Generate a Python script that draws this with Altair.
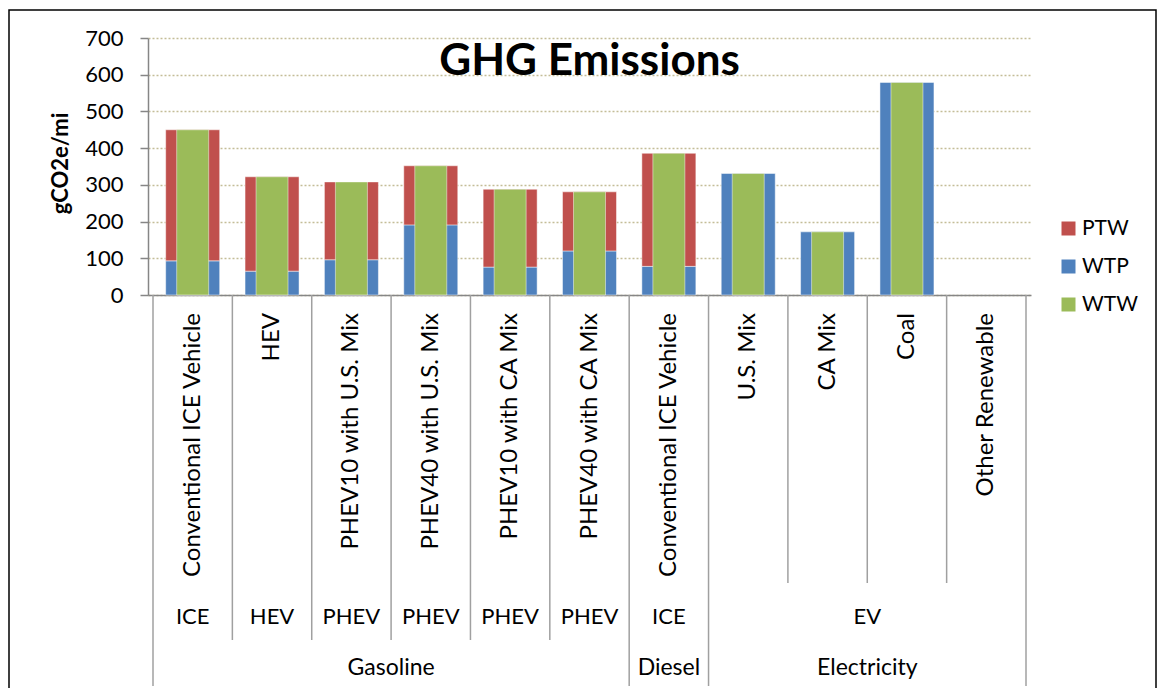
import altair as alt
import pandas as pd

# ---------------- data ----------------
vehicles = ["Conventional ICE Vehicle", "HEV", "PHEV10 with U.S. Mix", "PHEV40 with U.S. Mix",
            "PHEV10 with CA Mix", "PHEV40 with CA Mix", "Conventional ICE Vehicle",
            "U.S. Mix", "CA Mix", "Coal", "Other Renewable"]
wtp = [93, 65, 96, 191, 76, 120, 78, 331, 172, 579, 0]
ptw = [357, 257, 212, 161, 212, 161, 308, 0, 0, 0, 0]
wtw = [450, 322, 308, 352, 288, 281, 386, 331, 172, 579, 0]

types = ["ICE", "HEV", "PHEV", "PHEV", "PHEV", "PHEV", "ICE", "EV"]
type_start = [0, 1, 2, 3, 4, 5, 6, 7]
type_end = [1, 2, 3, 4, 5, 6, 7, 11]

fuels = ["Gasoline", "Diesel", "Electricity"]
fuel_start = [0, 6, 7]
fuel_end = [6, 7, 11]

series = ["PTW", "WTP", "WTW"]
colors = ["#C0504D", "#4F81BD", "#9BBB59"]
y_ticks = [0, 100, 200, 300, 400, 500, 600, 700]

# ---------------- styles ----------------
FONT = "Lato"
W, H = 883, 257
GRAY = "#868686"
SEP = "#A0A0A0"
sep_len = {1: 288, 2: 345, 3: 391}

# ---------------- tables ----------------
rows = []
for i in range(len(vehicles)):
    rows.append({"idx": i, "pos": i + 0.5, "series": "WTP", "value": wtp[i], "ord": 0})
    rows.append({"idx": i, "pos": i + 0.5, "series": "PTW", "value": ptw[i], "ord": 1})
    rows.append({"idx": i, "pos": i + 0.5, "series": "WTW", "value": wtw[i], "ord": 2})
df = pd.DataFrame(rows)

leaf = pd.DataFrame({"label": vehicles, "pos": [i + 0.5 for i in range(len(vehicles))]})
lvl2 = pd.DataFrame({"label": types,
                     "pos": [(s + e) / 2 for s, e in zip(type_start, type_end)]})
lvl3 = pd.DataFrame({"label": fuels,
                     "pos": [(s + e) / 2 for s, e in zip(fuel_start, fuel_end)]})

bounds = []
for k in range(len(vehicles) + 1):
    if k in fuel_start or k in fuel_end:
        lv = 3
    elif k in type_start or k in type_end:
        lv = 2
    else:
        lv = 1
    bounds.append({"k": k, "level": lv})
bdf = pd.DataFrame(bounds)

xscale = alt.Scale(domain=[0, len(vehicles)], nice=False, zero=False)
xaxis = alt.Axis(labels=False, ticks=False, grid=False, title=None,
                 domainColor=GRAY, domainWidth=1.5)
color = alt.Color("series:N",
                  scale=alt.Scale(domain=series, range=colors),
                  legend=alt.Legend(title=None, orient="none", legendX=910, legendY=180,
                                    symbolType="square", symbolSize=196, symbolStrokeWidth=0,
                                    labelFont=FONT, labelFontSize=21, labelColor="black",
                                    labelOffset=3, rowPadding=16, padding=0))

yscale = alt.Scale(domain=[0, 700], nice=False)
yaxis = alt.Axis(values=y_ticks, grid=True, labelOverlap=False,
                 gridColor="#C4BD97", gridDash=[2, 2], gridWidth=1.4,
                 domainColor=GRAY, domainWidth=1.5,
                 tickColor=GRAY, tickSize=8, tickWidth=1.5,
                 labelFont=FONT, labelFontSize=22, labelColor="black",
                 labelPadding=17,
                 title="gCO2e/mi", titleFont=FONT, titleFontSize=22,
                 titleFontWeight="bold", titleColor="black",
                 titleX=-88, titleY=125, titleAngle=270,
                 titleBaseline="middle", titleAlign="center")

base = alt.Chart(df).transform_filter(alt.datum.value > 0)

stacked = base.transform_filter(alt.datum.series != "WTW").mark_bar(
    size=54, stroke="white", strokeWidth=0.8, strokeOpacity=0.6
).encode(
    x=alt.X("pos:Q", scale=xscale, axis=xaxis),
    y=alt.Y("value:Q", stack="zero", scale=yscale, axis=yaxis),
    color=color,
    order=alt.Order("ord:Q"),
)

total = base.transform_filter(alt.datum.series == "WTW").mark_bar(
    size=32, stroke="white", strokeWidth=0.8, strokeOpacity=0.6
).encode(
    x=alt.X("pos:Q", scale=xscale, axis=xaxis),
    y=alt.Y("value:Q", stack=None, scale=yscale, axis=yaxis),
    color=color,
)

seps = []
for lv, ln in sep_len.items():
    seps.append(
        alt.Chart(bdf).transform_filter(alt.datum.level == lv).mark_rule(
            color=SEP, strokeWidth=1.5
        ).encode(
            x=alt.X("k:Q", scale=xscale, axis=xaxis),
            y=alt.value(H), y2=alt.value(H + ln),
        )
    )

leaf_text = alt.Chart(leaf).mark_text(
    angle=270, align="right", baseline="middle", font=FONT, fontSize=24, color="black"
).encode(x=alt.X("pos:Q", scale=xscale, axis=xaxis), y=alt.value(H + 18), text="label:N")

lvl2_text = alt.Chart(lvl2).mark_text(
    align="center", baseline="middle", font=FONT, fontSize=22, color="black"
).encode(x=alt.X("pos:Q", scale=xscale, axis=xaxis), y=alt.value(H + 322), text="label:N")

lvl3_text = alt.Chart(lvl3).mark_text(
    align="center", baseline="middle", font=FONT, fontSize=23, color="black"
).encode(x=alt.X("pos:Q", scale=xscale, axis=xaxis), y=alt.value(H + 373), text="label:N")

frame = alt.Chart(pd.DataFrame({"f": [0]})).mark_rect(
    fillOpacity=0, stroke="black", strokeWidth=1.5
).encode(x=alt.value(-139), x2=alt.value(1008), y=alt.value(-28), y2=alt.value(720))

chart = alt.layer(
    stacked, total, *seps, leaf_text, lvl2_text, lvl3_text, frame
).properties(
    width=W, height=H,
    title=alt.TitleParams("GHG Emissions", font=FONT, fontSize=44, fontWeight="bold",
                          color="black", anchor="middle", frame="group", offset=-75),
    padding={"left": 140, "top": 30, "right": 127, "bottom": 393},
    autosize=alt.AutoSizeParams(type="none"),
).configure_view(stroke=None)

chart.save("out.html", embed_options={"renderer": "svg", "actions": False})
